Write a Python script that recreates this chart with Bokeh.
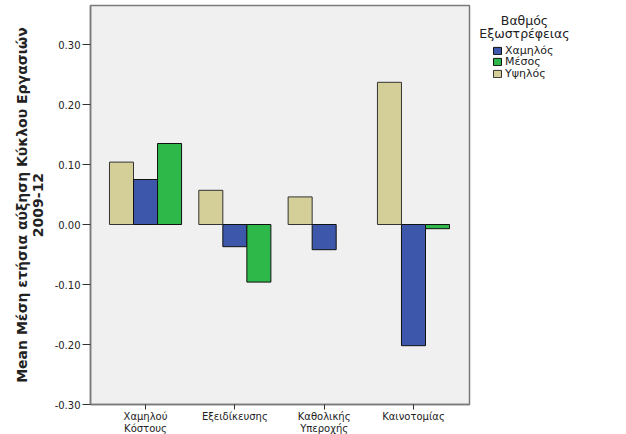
from bokeh.plotting import figure
from bokeh.models import (ColumnDataSource, FixedTicker, NumeralTickFormatter, Legend,
                          LegendItem, Label, Range1d)
from bokeh.layouts import row
from bokeh.transform import dodge
from bokeh.embed import file_html
from bokeh.resources import INLINE
import numpy as np

categories = ["Χαμηλού\nΚόστους", "Εξειδίκευσης", "Καθολικής\nΥπεροχής", "Καινοτομίας"]
cat_pos = [1, 2, 3, 4]
series_names = ["Χαμηλός", "Μέσος", "Υψηλός"]
legend_title = ["Βαθμός", "Εξωστρέφειας"]
val_low = [0.075, -0.037, -0.042, -0.202]
val_mid = [0.135, -0.096, np.nan, -0.007]
val_high = [0.104, 0.057, 0.046, 0.237]
y_ticks = [-0.30, -0.20, -0.10, 0.00, 0.10, 0.20, 0.30]

col_low = "#3D58AB"
col_mid = "#2EB849"
col_high = "#D4CF98"

FONT = "DejaVu Sans"
TXT = "#222222"

p = figure(frame_width=379, frame_height=399, output_backend="svg", toolbar_location=None,
           min_border_left=90, min_border_right=2, min_border_top=5, min_border_bottom=30,
           x_range=Range1d(0.384, 4.627), y_range=Range1d(-0.30, 0.365))
p.background_fill_color = "#F0F0F0"
p.border_fill_color = "white"
p.outline_line_color = "#7a7a7a"
p.outline_line_width = 1.5
p.grid.visible = False

src = ColumnDataSource(dict(x=cat_pos, low=val_low, mid=val_mid, high=val_high))
w = 0.269
p.vbar(x=dodge("x", -w), top="high", bottom=0, width=w, source=src,
       fill_color=col_high, line_color="#333333", line_width=1)
p.vbar(x=dodge("x", 0), top="low", bottom=0, width=w, source=src,
       fill_color=col_low, line_color="#111111", line_width=1)
p.vbar(x=dodge("x", w), top="mid", bottom=0, width=w, source=src,
       fill_color=col_mid, line_color="#111111", line_width=1)

# axes
p.xaxis.ticker = FixedTicker(ticks=cat_pos)
p.xaxis.major_label_overrides = {c: l for c, l in zip(cat_pos, categories)}
p.yaxis.ticker = FixedTicker(ticks=y_ticks)
p.yaxis.formatter = NumeralTickFormatter(format="0.00")
for ax in (p.xaxis[0], p.yaxis[0]):
    ax.minor_tick_line_color = None
    ax.major_tick_in = 0
    ax.major_tick_line_color = "#333333"
    ax.axis_line_color = "#7a7a7a"
    ax.axis_line_width = 1.5
    ax.major_label_text_font = FONT
    ax.major_label_text_font_size = "10px"
    ax.major_label_text_color = TXT
p.yaxis.major_tick_out = 8
p.yaxis.major_label_standoff = 2
p.xaxis.major_tick_out = 5
p.xaxis.major_label_standoff = 1
p.xaxis.major_label_text_line_height = 1.15

p.yaxis.axis_label = "Mean Μέση ετήσια αύξηση Κύκλου Εργασιών\n2009-12"
p.yaxis.axis_label_text_font = FONT
p.yaxis.axis_label_text_font_style = "bold"
p.yaxis.axis_label_text_font_size = "14px"
p.yaxis.axis_label_text_color = TXT
p.yaxis.axis_label_text_line_height = 0.95
p.yaxis.axis_label_standoff = 6

# legend panel (its frame is aligned with the main frame: page y 5..404)
FB = 404
p2 = figure(width=155, height=434, output_backend="svg", toolbar_location=None,
            x_axis_location=None, y_axis_location=None,
            min_border=0, x_range=Range1d(0, 1), y_range=Range1d(0, 1))
p2.grid.visible = False
p2.outline_line_color = None
p2.background_fill_color = "white"
p2.border_fill_color = "white"
dummy = ColumnDataSource(dict(x=[0.5], top=[np.nan]))
glyphs = [
    p2.vbar(x="x", top="top", width=0.1, source=dummy, fill_color=col_low, line_color="#111111"),
    p2.vbar(x="x", top="top", width=0.1, source=dummy, fill_color=col_mid, line_color="#111111"),
    p2.vbar(x="x", top="top", width=0.1, source=dummy, fill_color=col_high, line_color="#333333"),
]
ROW_H = 14
for name, g, cy in zip(series_names, glyphs, (52.5, 64, 75.5)):
    lg = Legend(items=[LegendItem(label=name, renderers=[g])],
                location=(21, FB - cy - ROW_H / 2))
    lg.border_line_color = None
    lg.background_fill_alpha = 0
    lg.padding = 0
    lg.margin = 0
    lg.spacing = 0
    lg.glyph_width = 10
    lg.glyph_height = 9
    lg.label_height = 9
    lg.label_standoff = 3
    lg.label_text_font = FONT
    lg.label_text_font_size = "11px"
    lg.label_text_color = TXT
    p2.add_layout(lg, "center")

for txt, base in zip(legend_title, (23, 36)):
    p2.add_layout(Label(x=53, y=FB - base, x_units="screen", y_units="screen", text=txt,
                        text_align="center", text_baseline="alphabetic", text_font=FONT,
                        text_font_size="12.5px", text_color=TXT))

layout = row(p, p2, spacing=0)
open("out.html", "w").write(file_html(layout, INLINE))
